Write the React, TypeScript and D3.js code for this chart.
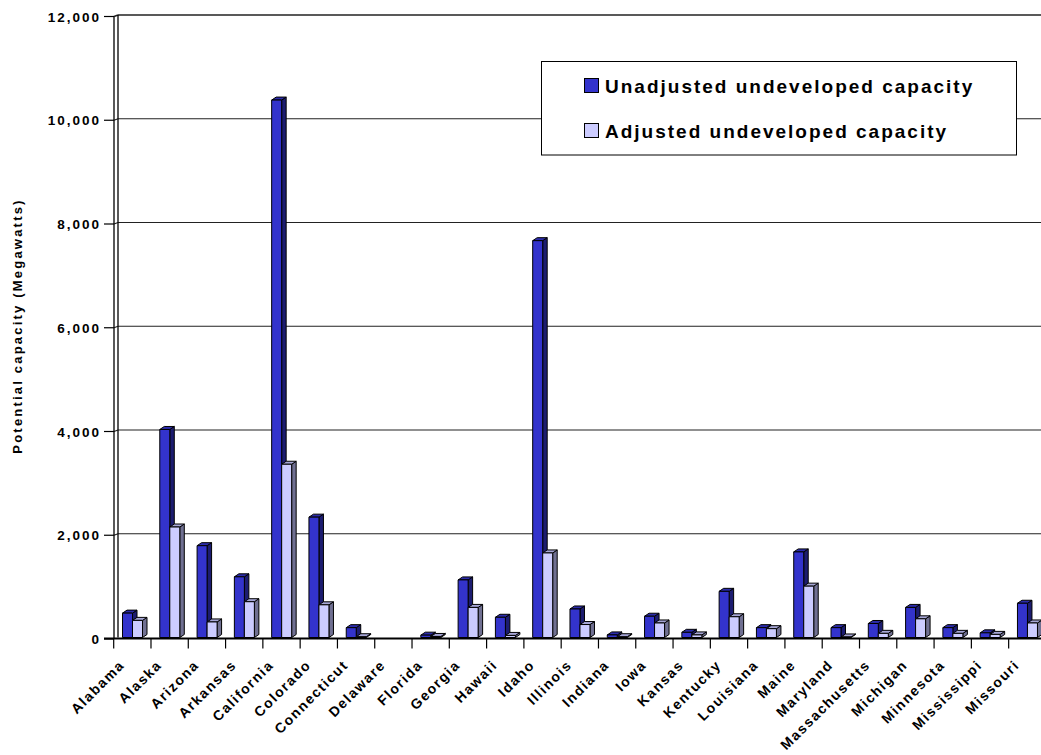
import * as d3 from 'd3'

const STATES = [
  'Alabama', 'Alaska', 'Arizona', 'Arkansas', 'California', 'Colorado', 'Connecticut',
  'Delaware', 'Florida', 'Georgia', 'Hawaii', 'Idaho', 'Illinois', 'Indiana', 'Iowa',
  'Kansas', 'Kentucky', 'Louisiana', 'Maine', 'Maryland', 'Massachusetts', 'Michigan',
  'Minnesota', 'Mississippi', 'Missouri',
]
const UNADJUSTED = [470, 4010, 1770, 1170, 10360, 2320, 190, 0, 45, 1110, 390, 7650, 550, 50, 410, 100, 890, 190, 1650, 190, 270, 580, 190, 90, 660]
const ADJUSTED = [330, 2130, 300, 690, 3340, 630, 15, 0, 20, 580, 40, 1630, 250, 15, 280, 50, 400, 170, 990, 10, 80, 360, 80, 60, 280]
const Y_TICKS = [0, 2000, 4000, 6000, 8000, 10000, 12000]
const SERIES = ['Unadjusted undeveloped capacity', 'Adjusted undeveloped capacity']

const COLORS = [
  { front: '#3333CC', side: '#1C1C70', top: '#2B2BAA' },
  { front: '#CCCCFF', side: '#707092', top: '#A6A6D6' },
]

const W = 1041
const H = 755
const X0 = 113.7
const STEP = 37.29
const BASE = 637.5
const TOP = 15
const DX = 4.5
const DY = 3
const BAR_W = 10
const BAR_OFF = 8.8
const FONT = 'Arial, "Liberation Sans", sans-serif'

export default function App() {
  const x = d3.scaleBand<string>().domain(STATES).range([X0, X0 + STEP * STATES.length]).padding(0)
  const y = d3.scaleLinear().domain([0, 12000]).range([BASE, TOP])
  const fmt = d3.format(',')

  const bar = (bx: number, v: number, c: typeof COLORS[0], key: string) => {
    if (v <= 0) return null
    const yt = y(v)
    const w = BAR_W
    const top = `${bx},${yt} ${bx + DX},${yt - DY} ${bx + w + DX},${yt - DY} ${bx + w},${yt}`
    const side = `${bx + w},${yt} ${bx + w + DX},${yt - DY} ${bx + w + DX},${BASE - DY} ${bx + w},${BASE}`
    return (
      <g key={key} stroke="#000" strokeWidth={1} strokeLinejoin="round">
        <polygon points={side} fill={c.side} />
        <polygon points={top} fill={c.top} />
        <rect x={bx} y={yt} width={w} height={BASE - yt} fill={c.front} />
      </g>
    )
  }

  return (
    <svg width={W} height={H} style={{ position: 'absolute', left: 0, top: 0, display: 'block', background: '#fff' }}
      fontFamily={FONT} fontWeight="bold">
      {/* back wall gridlines */}
      {Y_TICKS.filter(t => t > 0).map(t => (
        <g key={t} stroke="#222" strokeWidth={t === 12000 ? 1.6 : 1.2}>
          <line x1={118} x2={W} y1={y(t)} y2={y(t)} />
          <line x1={114} x2={118} y1={y(t) + 1.5} y2={y(t)} />
        </g>
      ))}
      {/* side wall */}
      <line x1={114} x2={114} y1={TOP + 1.5} y2={BASE + 1} stroke="#000" strokeWidth={1.3} />
      <line x1={118} x2={118} y1={TOP} y2={BASE} stroke="#000" strokeWidth={1.3} />
      {/* y ticks and labels */}
      {Y_TICKS.map(t => (
        <g key={t}>
          <line x1={104} x2={114} y1={y(t) + 1.5} y2={y(t) + 1.5} stroke="#000" strokeWidth={1.2} />
          <text x={101} y={y(t) + 6.5} textAnchor="end" fontSize={13.5} letterSpacing={2} fill="#000">{fmt(t)}</text>
        </g>
      ))}
      {/* bars */}
      {STATES.map((s, i) => {
        const bx = x(s)! + BAR_OFF
        return (
          <g key={s}>
            {bar(bx, UNADJUSTED[i], COLORS[0], 'u')}
            {bar(bx + BAR_W, ADJUSTED[i], COLORS[1], 'a')}
          </g>
        )
      })}
      {/* floor */}
      <line x1={104} x2={W} y1={BASE + 1} y2={BASE + 1} stroke="#000" strokeWidth={2} />
      {STATES.map(s => (
        <line key={s} x1={x(s)!} x2={x(s)!} y1={BASE + 1} y2={BASE + 11} stroke="#000" strokeWidth={1.2} />
      ))}
      {/* x labels */}
      {STATES.map(s => {
        const cx = x(s)! + STEP / 2
        return (
          <text key={s} transform={`translate(${cx - 7},${666}) rotate(-45)`} textAnchor="end"
            fontSize={14} letterSpacing={1.5} fill="#000">{s}</text>
        )
      })}
      {/* y title */}
      <text transform="translate(22,326) rotate(-90)" textAnchor="middle" fontSize={13} letterSpacing={2.2} fill="#000">
        Potential capacity (Megawatts)
      </text>
      {/* legend */}
      <rect x={541.5} y={61.5} width={475} height={93.5} fill="#fff" stroke="#000" strokeWidth={1} />
      {SERIES.map((name, i) => (
        <g key={name}>
          <rect x={584.5} y={78.5 + i * 45} width={14} height={14} fill={COLORS[i].front} stroke="#000" strokeWidth={1} />
          <text x={605} y={92.5 + i * 45} fontSize={19} letterSpacing={2} fill="#000">{name}</text>
        </g>
      ))}
    </svg>
  )
}
